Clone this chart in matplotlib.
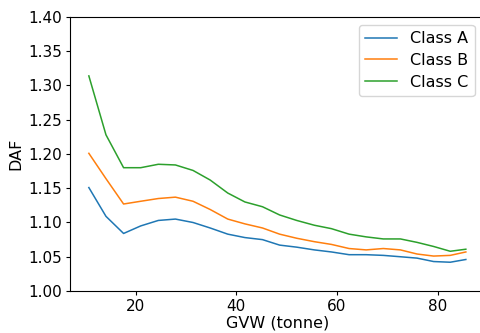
import matplotlib
matplotlib.use("Agg")
import matplotlib.pyplot as plt

gvw = [10.7, 14.1, 17.6, 21.0, 24.5, 27.9, 31.4, 34.8, 38.3, 41.7, 45.2, 48.6,
       52.0, 55.5, 58.9, 62.4, 65.8, 69.2, 72.6, 75.9, 79.2, 82.5, 85.6]
class_a = [1.151, 1.109, 1.084, 1.095, 1.103, 1.105, 1.100, 1.092, 1.083, 1.078, 1.075, 1.067,
           1.064, 1.060, 1.057, 1.053, 1.053, 1.052, 1.050, 1.048, 1.043, 1.042, 1.046]
class_b = [1.201, 1.164, 1.127, 1.131, 1.135, 1.137, 1.131, 1.119, 1.105, 1.098, 1.092, 1.083,
           1.077, 1.072, 1.068, 1.062, 1.060, 1.062, 1.060, 1.054, 1.051, 1.052, 1.057]
class_c = [1.314, 1.228, 1.180, 1.180, 1.185, 1.184, 1.176, 1.162, 1.143, 1.130, 1.123, 1.111,
           1.103, 1.096, 1.091, 1.083, 1.079, 1.076, 1.076, 1.071, 1.065, 1.058, 1.061]
series_names = ["Class A", "Class B", "Class C"]

fig = plt.figure(figsize=(4.81, 3.33), dpi=100)
W, H = 481, 333
ax = fig.add_axes([70 / W, 1 - 291 / H, (484.7 - 70) / W, (291 - 17) / H])
for vals, name in zip([class_a, class_b, class_c], series_names):
    ax.plot(gvw, vals, label=name, linewidth=1.1)
ax.set_ylim(1.0, 1.4)
ax.set_yticks([1.00, 1.05, 1.10, 1.15, 1.20, 1.25, 1.30, 1.35, 1.40])
ax.set_xticks([20, 40, 60, 80])
ax.tick_params(labelsize=11, length=3, pad=2.5)
ax.set_xlabel("GVW (tonne)", fontsize=11.5, labelpad=1.5)
ax.set_ylabel("DAF", fontsize=11.5, labelpad=4)
ax.legend(loc="upper right", fontsize=11.5, labelspacing=0.42,
          bbox_to_anchor=(0.995, 1.0))
fig.savefig("out.png", dpi=100)
